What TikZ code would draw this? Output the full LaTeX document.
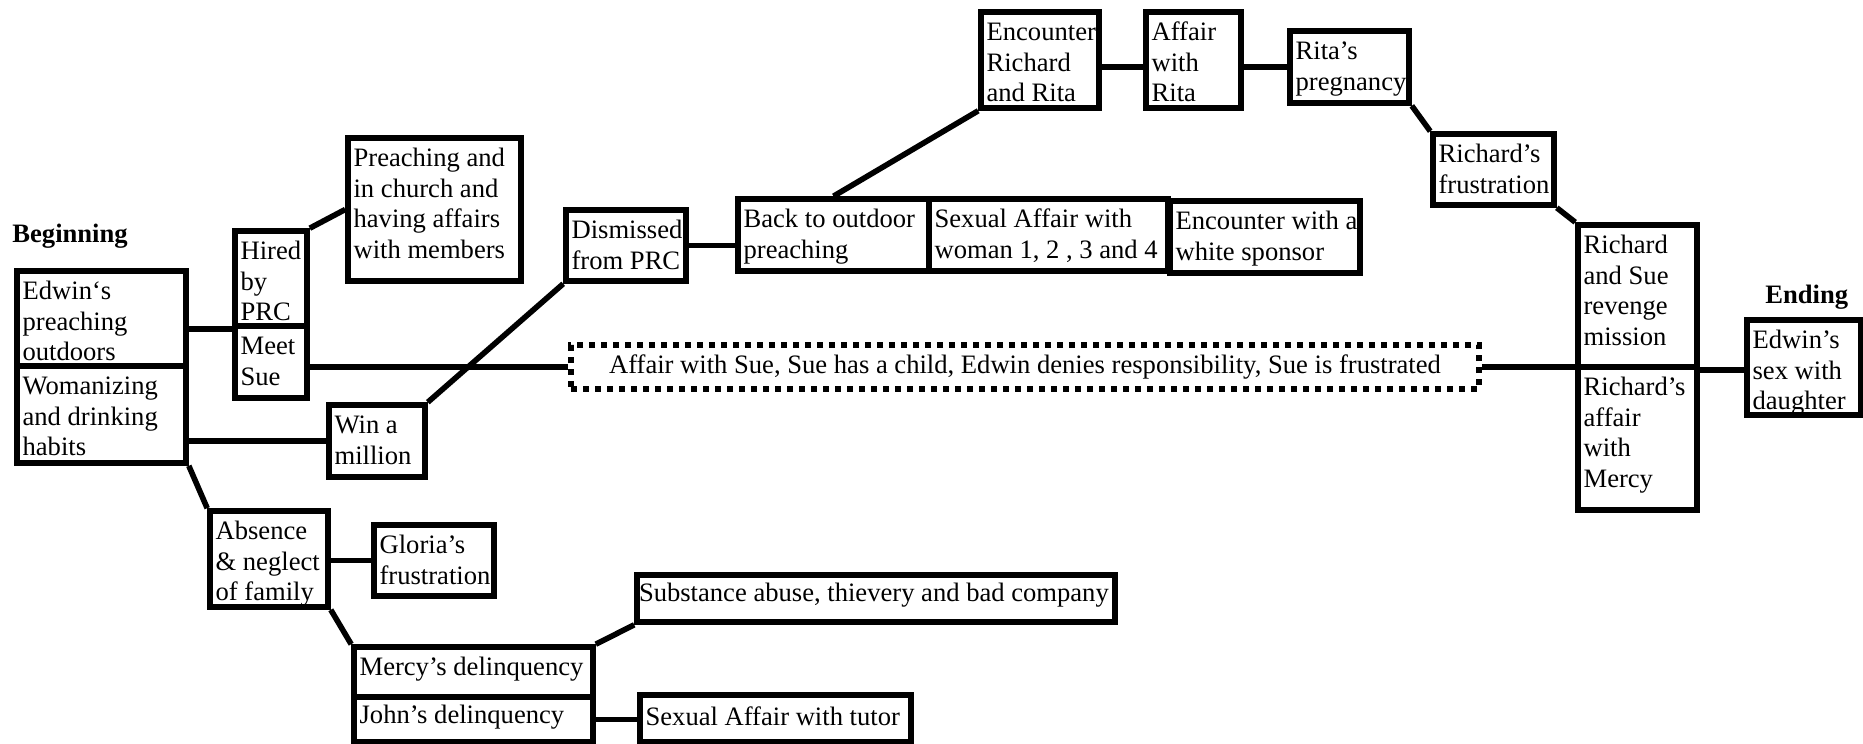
\documentclass[tikz,border=0pt]{standalone}
\usepackage{fontspec}
\setmainfont{Liberation Serif}
\newcommand\bxpad{2.8pt}
\tikzset{
  bx/.style={draw, line width=2.8pt, inner xsep=\bxpad, inner ysep=2pt, fill=white,
    font=\fontsize{13.3}{15.2}\selectfont},
  conn/.style={line width=2.8pt},
  dotbox/.style={draw, line width=2.8pt, dash pattern=on 3pt off 3pt, inner sep=0pt,
    fill=white, font=\fontsize{13.3}{15.2}\selectfont},
  hdr/.style={font=\fontsize{13.3}{15.2}\selectfont\bfseries, inner sep=0pt}
}
% #1 baseline offset (pt), #2 name, #3 x1, #4 y1, #5 x2, #6 y2, #7 text
\newcommand\bx[7][14.4]{%
  \pgfmathsetlengthmacro\bxW{(#5-#3)*0.5pt}%
  \pgfmathsetlengthmacro\bxH{(#6-#4)*0.5pt}%
  \pgfmathsetlengthmacro\bxWi{\bxW-2*\bxpad}%
  \pgfmathsetlengthmacro\bxT{#1pt-2pt}%
  \pgfmathsetlengthmacro\bxD{\bxH-#1pt-2pt}%
  \node[bx, text height=\bxT, text depth=\bxD] (#2) at ({(#3+#5)/2},{(#4+#6)/2})
    {\makebox[\bxWi][l]{\begin{tabular}[t]{@{}l@{}}#7\end{tabular}}};%
}
\begin{document}
\begin{tikzpicture}[x=0.5pt,y=-0.5pt]
\fill[white] (0,0) rectangle (1863,744);
\useasboundingbox (0,0) rectangle (1863,744);

\node[hdr, anchor=base west] (beg) at (12,242) {Beginning};
\node[hdr, anchor=base west] (end) at (1765,303) {Ending};

\bx{edwin}{17}{271}{186}{366}{Edwin‘s\\preaching\\outdoors}
\bx{wom}{17}{366}{186}{463}{Womanizing\\and drinking\\habits}
\bx{hired}{235}{231}{307}{326}{Hired\\by\\PRC}
\bx{meet}{235}{326}{307}{398}{Meet\\Sue}
\bx{preach}{348}{138}{521}{281}{Preaching and\\in church and\\having affairs\\with members}
\bx{win}{329}{405}{425}{477}{Win a\\million}
\bx{dism}{566}{210}{686}{281}{Dismissed\\from PRC}
\bx{back}{738}{199}{929}{271}{Back to outdoor\\preaching}
\bx{sexaff}{929}{199}{1168}{271}{Sexual Affair with\\woman 1, 2 , 3 and 4}
\bx{white}{1170}{201}{1360}{273}{Encounter with a\\white sponsor}
\bx{err}{981}{12}{1099}{108}{Encounter\\Richard\\and Rita}
\bx{arita}{1146}{12}{1241}{108}{Affair\\with\\Rita}
\bx{preg}{1290}{31}{1409}{103}{Rita’s\\pregnancy}
\bx{rfru}{1433}{134}{1554}{205}{Richard’s\\frustration}
\bx{rsr}{1578}{225}{1697}{367}{Richard\\and Sue\\revenge\\mission}
\bx{ram}{1578}{367}{1697}{510}{Richard’s\\affair\\with\\Mercy}
\bx{sex}{1747}{320}{1861}{415}{Edwin’s\\sex with\\daughter}
\bx{abs}{210}{511}{328}{607}{Absence\\\& neglect\\of family}
\bx{gloria}{374}{525}{494}{596}{Gloria’s\\frustration}
\bx{mercy}{354}{647}{593}{697}{Mercy’s delinquency}
\bx[13]{john}{354}{697}{593}{742}{John’s delinquency}
\renewcommand\bxpad{1pt}
\bx[13]{subst}{637}{575}{1115}{622}{Substance abuse, thievery and bad company}
\renewcommand\bxpad{2.8pt}
\bx[15]{tutor}{640}{695}{911}{742}{Sexual Affair with tutor}

\node[dotbox, minimum width=454pt, minimum height=22pt] (aff) at (1025,367)
  {Affair with Sue, Sue has a child, Edwin denies responsibility, Sue is frustrated};

\draw[conn] (hired.south west) -- (hired.south west -| edwin.east);
\draw[conn] (hired.north east) -- (preach.west);
\draw[conn] (meet.east |- aff.west) -- (aff.west);
\draw[conn] (aff.east) -- (aff.east -| rsr.west);
\draw[conn] (rsr.south east) -- (rsr.south east -| sex.west);
\draw[conn] (wom.east |- win.west) -- (win.west);
\draw[conn] (wom.south east) -- (abs.north west);
\draw[conn] (win.north east) -- (dism.south west);
\draw[conn] (dism.east) -- (dism.east -| back.west);
\draw[conn] (back.north) -- (err.south west);
\draw[conn] (err.east |- preg.west) -- (arita.west |- preg.west);
\draw[conn] (arita.east |- preg.west) -- (preg.west);
\draw[conn] (preg.south east) -- (rfru.north west);
\draw[conn] (rfru.south east) -- (rsr.north west);
\draw[conn] (abs.east |- gloria.west) -- (gloria.west);
\draw[conn] (abs.south east) -- (mercy.north west);
\draw[conn] (mercy.north east) -- (subst.south west);
\draw[conn] (john.east) -- (john.east -| tutor.west);
\end{tikzpicture}
\end{document}
